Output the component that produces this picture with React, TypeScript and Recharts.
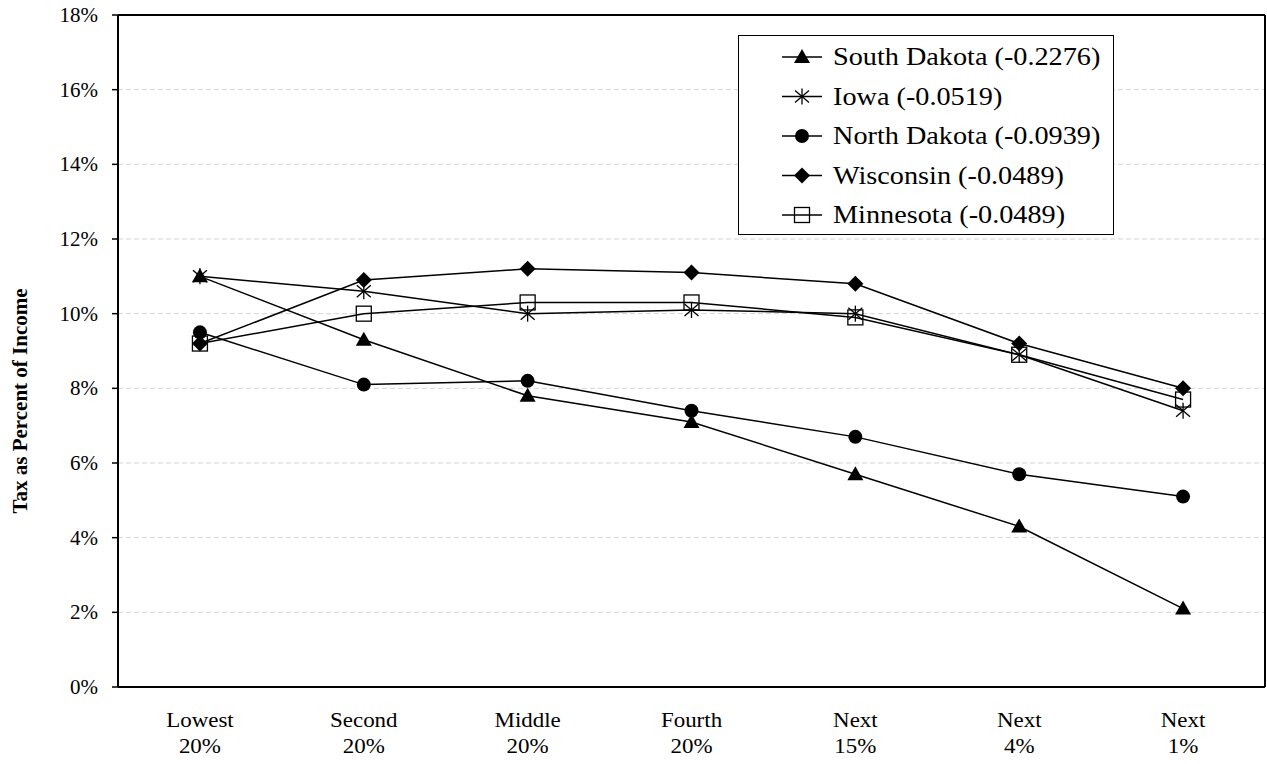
import React from "react";
import { LineChart, Line, XAxis, YAxis, CartesianGrid, ReferenceLine, Legend } from "recharts";

const groups = ["Lowest", "Second", "Middle", "Fourth", "Next", "Next", "Next"];
const shares = ["20%", "20%", "20%", "20%", "15%", "4%", "1%"];

const southDakota = [11.0, 9.3, 7.8, 7.1, 5.7, 4.3, 2.1];
const iowa = [11.0, 10.6, 10.0, 10.1, 10.0, 8.9, 7.4];
const northDakota = [9.5, 8.1, 8.2, 7.4, 6.7, 5.7, 5.1];
const wisconsin = [9.2, 10.9, 11.2, 11.1, 10.8, 9.2, 8.0];
const minnesota = [9.2, 10.0, 10.3, 10.3, 9.9, 8.9, 7.7];

const yTicks = [0, 2, 4, 6, 8, 10, 12, 14, 16, 18];

const FONT = "'Liberation Serif', 'Times New Roman', serif";

type Kind = "triangle" | "star" | "circle" | "diamond" | "square";

const series: { key: string; name: string; kind: Kind; values: number[] }[] = [
  { key: "mn", name: "Minnesota (-0.0489)", kind: "square", values: minnesota },
  { key: "wi", name: "Wisconsin (-0.0489)", kind: "diamond", values: wisconsin },
  { key: "nd", name: "North Dakota (-0.0939)", kind: "circle", values: northDakota },
  { key: "ia", name: "Iowa (-0.0519)", kind: "star", values: iowa },
  { key: "sd", name: "South Dakota (-0.2276)", kind: "triangle", values: southDakota },
];

const legendOrder = ["sd", "ia", "nd", "wi", "mn"];

// x positions sit in the middle of each income band
const data = groups.map((g, i) => {
  const row: Record<string, number | string> = { pos: i + 0.5, group: g };
  series.forEach((s) => {
    row[s.key] = s.values[i];
  });
  return row;
});

function Marker({ kind, cx, cy }: { kind: Kind; cx: number; cy: number }) {
  switch (kind) {
    case "triangle":
      return <polygon points={`${cx},${cy - 8} ${cx + 8},${cy + 6} ${cx - 8},${cy + 6}`} fill="#000" />;
    case "circle":
      return <circle cx={cx} cy={cy} r={7} fill="#000" />;
    case "diamond":
      return <polygon points={`${cx},${cy - 8} ${cx + 8},${cy} ${cx},${cy + 8} ${cx - 8},${cy}`} fill="#000" />;
    case "square":
      return <rect x={cx - 7.5} y={cy - 7.5} width={15} height={15} fill="none" stroke="#000" strokeWidth={1.3} />;
    case "star":
      return (
        <g stroke="#000" strokeWidth={1.3}>
          <line x1={cx} y1={cy - 8} x2={cx} y2={cy + 8} />
          <line x1={cx - 7} y1={cy - 6} x2={cx + 7} y2={cy + 6} />
          <line x1={cx - 7} y1={cy + 6} x2={cx + 7} y2={cy - 6} />
        </g>
      );
  }
  return null;
}

function LegendBox() {
  const rows = legendOrder.map((k) => series.find((s) => s.key === k)!);
  return (
    <svg width={376} height={200} style={{ display: "block" }}>
      <rect x={0.5} y={0.5} width={375} height={199} fill="#fff" stroke="#000" strokeWidth={1} />
      {rows.map((s, i) => {
        const cy = 22 + i * 39.5;
        return (
          <g key={s.key}>
            <line x1={44} y1={cy} x2={84} y2={cy} stroke="#000" strokeWidth={1.5} />
            <Marker kind={s.kind} cx={64} cy={cy} />
            <g transform={`translate(95, ${cy}) scale(1.13, 1)`}>
              <text x={0} y={0} dominantBaseline="central" fontFamily={FONT} fontSize={25} fill="#000">
                {s.name}
              </text>
            </g>
          </g>
        );
      })}
    </svg>
  );
}

function BandTick(props: any) {
  const { x, y, payload } = props;
  const i = Math.round(payload.value - 0.5);
  return (
    <g transform={`translate(${x}, ${y}) scale(1.12, 1)`}>
      <text x={0} y={0} textAnchor="middle" fontFamily={FONT} fontSize={20.5} fill="#000">
        <tspan x={0} dy={30}>{groups[i]}</tspan>
        <tspan x={0} dy={26}>{shares[i]}</tspan>
      </text>
    </g>
  );
}

function YTick(props: any) {
  const { x, y, payload } = props;
  return (
    <text x={x} y={y} textAnchor="end" dominantBaseline="central" fontFamily={FONT} fontSize={21} fill="#000">
      {`${payload.value}%`}
    </text>
  );
}

function YTitle(props: any) {
  const { viewBox } = props;
  const cy = viewBox.y + viewBox.height / 2 + 50;
  return (
    <text
      x={27}
      y={cy}
      transform={`rotate(-90, 27, ${cy})`}
      textAnchor="middle"
      fontFamily={FONT}
      fontSize={21}
      fontWeight="bold"
      fill="#000"
    >
      Tax as Percent of Income
    </text>
  );
}

export default function App() {
  return (
    <div style={{ position: "absolute", left: 0, top: 0, width: 1267, height: 764, background: "#fff", fontFamily: FONT }}>
      <LineChart width={1267} height={764} data={data} margin={{ top: 15, right: 2, left: 0, bottom: 0 }}>
        <CartesianGrid vertical={false} stroke="#d4d4d4" strokeDasharray="5 3" />
        <XAxis
          xAxisId="edge"
          dataKey="pos"
          type="number"
          domain={[0, 7]}
          ticks={[0, 1, 2, 3, 4, 5, 6, 7]}
          tick={false}
          tickSize={8}
          height={10}
          axisLine={{ stroke: "#000", strokeWidth: 2 }}
          tickLine={{ stroke: "#000", strokeWidth: 1.5 }}
        />
        <XAxis
          xAxisId="lab"
          dataKey="pos"
          type="number"
          domain={[0, 7]}
          ticks={[0.5, 1.5, 2.5, 3.5, 4.5, 5.5, 6.5]}
          axisLine={false}
          tickLine={false}
          tickSize={0}
          tickMargin={0}
          height={67}
          tick={<BandTick />}
        />
        <YAxis
          domain={[0, 18]}
          ticks={yTicks}
          width={118}
          tickSize={6}
          tickMargin={14}
          axisLine={{ stroke: "#000", strokeWidth: 2 }}
          tickLine={{ stroke: "#000", strokeWidth: 1.5 }}
          tick={<YTick />}
          label={<YTitle />}
        />
        <ReferenceLine xAxisId="edge" y={18} stroke="#000" strokeWidth={2} />
        <ReferenceLine xAxisId="edge" x={7} stroke="#000" strokeWidth={2} />
        {series.map((s) => (
          <Line
            key={s.key}
            xAxisId="edge"
            dataKey={s.key}
            name={s.name}
            stroke="#000"
            strokeWidth={1.5}
            isAnimationActive={false}
            dot={(p: any) => <Marker key={`${s.key}-${p.index}`} kind={s.kind} cx={p.cx} cy={p.cy} />}
            activeDot={false}
          />
        ))}
        <Legend
          layout="vertical"
          align="center"
          verticalAlign="middle"
          content={<LegendBox />}
          wrapperStyle={{ left: 738, top: 35, width: 376, height: 200 }}
        />
      </LineChart>
    </div>
  );
}
